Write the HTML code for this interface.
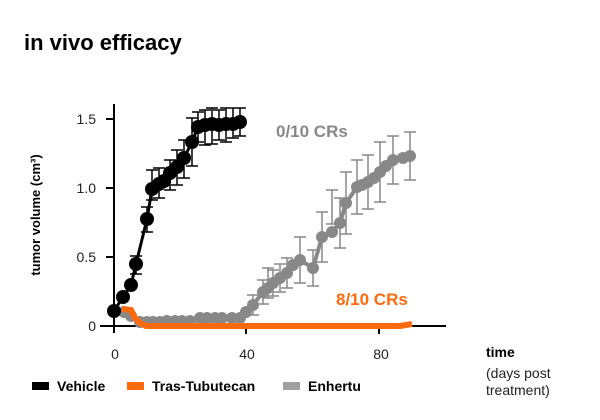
<!DOCTYPE html>
<html><head><meta charset="utf-8"><style>
body{margin:0;background:#fff}
svg{display:block;font-family:"Liberation Sans",sans-serif}
</style></head><body>
<svg width="600" height="420" viewBox="0 0 600 420" xmlns="http://www.w3.org/2000/svg">
<text x="24" y="50" font-size="22" font-weight="bold" fill="#000">in vivo efficacy</text>
<line x1="114" y1="104" x2="114" y2="333" stroke="#000" stroke-width="2"/>
<line x1="100" y1="326" x2="446" y2="326" stroke="#000" stroke-width="2"/>
<g stroke="#000" stroke-width="2">
<line x1="106" y1="119" x2="114" y2="119"/><line x1="106" y1="188" x2="114" y2="188"/>
<line x1="106" y1="257" x2="114" y2="257"/>
<line x1="246" y1="326" x2="246" y2="334"/><line x1="379" y1="326" x2="379" y2="334"/>
</g>
<g font-size="14" fill="#222" text-anchor="end">
<text x="96" y="124">1.5</text><text x="96" y="193">1.0</text><text x="96" y="262">0.5</text><text x="96" y="331">0</text>
</g>
<g font-size="14" fill="#222" text-anchor="middle">
<text x="115" y="359">0</text><text x="247" y="359">40</text><text x="381" y="359">80</text>
</g>
<text transform="translate(40,215) rotate(-90)" font-size="13" font-weight="bold" text-anchor="middle" fill="#000">tumor volume (cm³)</text>
<text x="486" y="357" font-size="14" font-weight="bold">time</text>
<text x="486" y="378" font-size="14" fill="#222">(days post</text>
<text x="486" y="395" font-size="14" fill="#222">treatment)</text>
<g stroke="#888" stroke-width="1.5" fill="none">
<path d="M253 295v20M247 295h12M247 315h12M263 280v24M257 280h12M257 304h12M273 270v26M267 270h12M267 296h12M287 258v30M281 258h12M281 288h12M300 237v46M294 237h12M294 283h12M313 250v36M307 250h12M307 286h12M322 212v50M316 212h12M316 262h12M340 198v50M334 198h12M334 248h12M346 172v62M340 172h12M340 234h12M357 160v54M351 160h12M351 214h12M368 155v54M362 155h12M362 209h12M380 142v60M374 142h12M374 202h12M393 136v48M387 136h12M387 184h12M410 132v48M404 132h12M404 180h12M332 190v34M326 190h12M326 224h12M268 268v30M262 268h12M262 298h12M280 264v28M274 264h12M274 292h12"/>
</g>
<polyline fill="none" stroke="#888" stroke-width="4" points="124,312 131,316 140,322 160,322 175,321 190,321 200,318 215,318 232,318 240,318 246,312 253,305 263,292 273,283 287,273 300,260 313,268 322,237 332,232 340,223 346,203 357,187 368,182 380,172 393,160 403,158 410,156"/>
<g fill="#888">
<circle cx="124" cy="312" r="6"/><circle cx="131" cy="316" r="6"/><circle cx="140" cy="322" r="6"/><circle cx="147" cy="322" r="6"/><circle cx="153" cy="322" r="6"/><circle cx="160" cy="322" r="6"/><circle cx="167" cy="321" r="6"/><circle cx="175" cy="321" r="6"/><circle cx="182" cy="321" r="6"/><circle cx="190" cy="321" r="6"/><circle cx="200" cy="318" r="6"/><circle cx="207" cy="318" r="6"/><circle cx="215" cy="318" r="6"/><circle cx="222" cy="318" r="6"/><circle cx="232" cy="318" r="6"/><circle cx="240" cy="318" r="6"/><circle cx="246" cy="312" r="6"/><circle cx="253" cy="305" r="6"/><circle cx="263" cy="292" r="6"/><circle cx="268" cy="288" r="6"/><circle cx="273" cy="283" r="6"/><circle cx="280" cy="278" r="6"/><circle cx="287" cy="273" r="6"/><circle cx="293" cy="265" r="6"/><circle cx="300" cy="260" r="6"/><circle cx="313" cy="268" r="6"/><circle cx="322" cy="237" r="6"/><circle cx="332" cy="232" r="6"/><circle cx="340" cy="223" r="6"/><circle cx="346" cy="203" r="6"/><circle cx="357" cy="187" r="6"/><circle cx="362" cy="185" r="6"/><circle cx="368" cy="182" r="6"/><circle cx="374" cy="178" r="6"/><circle cx="380" cy="172" r="6"/><circle cx="386" cy="166" r="6"/><circle cx="393" cy="160" r="6"/><circle cx="403" cy="158" r="6"/><circle cx="410" cy="156" r="6"/>
</g>
<polyline fill="none" stroke="#ff6a0d" stroke-width="6" points="122,309 131,310 135,318 140,323 146,326 400,326 412,324"/>
<g stroke="#000" stroke-width="1.5" fill="none">
<path d="M136 256v18M130 256h12M130 274h12M147 207v25M141 207h12M141 232h12M152 170v30M146 170h12M146 200h12M159 168v30M153 168h12M153 198h12M170 160v30M164 160h12M164 190h12M177 150v35M171 150h12M171 185h12M184 140v38M178 140h12M178 178h12M192 118v48M186 118h12M186 166h12M198 112v30M192 112h12M192 142h12M205 110v35M199 110h12M199 145h12M212 108v36M206 108h12M206 144h12M219 110v30M213 110h12M213 140h12M226 108v34M220 108h12M220 142h12M233 108v30M227 108h12M227 138h12M240 108v28M234 108h12M234 136h12"/>
</g>
<polyline fill="none" stroke="#000" stroke-width="3" points="114,311 123,297 131,285 136,264 147,219 152,189 159,184 164,181 170,173 177,167 184,158 192,142 198,127 205,125 212,124 219,125 226,124 233,124 240,122"/>
<g fill="#000">
<circle cx="114" cy="311" r="7"/><circle cx="123" cy="297" r="7"/><circle cx="131" cy="285" r="7"/><circle cx="136" cy="264" r="7"/><circle cx="147" cy="219" r="7"/><circle cx="152" cy="189" r="7"/><circle cx="159" cy="184" r="7"/><circle cx="164" cy="181" r="7"/><circle cx="170" cy="173" r="7"/><circle cx="177" cy="167" r="7"/><circle cx="184" cy="158" r="7"/><circle cx="192" cy="142" r="7"/><circle cx="198" cy="127" r="7"/><circle cx="205" cy="125" r="7"/><circle cx="212" cy="124" r="7"/><circle cx="219" cy="125" r="7"/><circle cx="226" cy="124" r="7"/><circle cx="233" cy="124" r="7"/><circle cx="240" cy="122" r="7"/>
</g>
<text x="276" y="137" font-size="17" font-weight="bold" fill="#888">0/10 CRs</text>
<text x="336" y="305" font-size="17" font-weight="bold" fill="#ff6a0d">8/10 CRs</text>
<rect x="32" y="382" width="17" height="8" fill="#000"/>
<text x="57" y="391" font-size="14" font-weight="bold">Vehicle</text>
<rect x="127" y="382" width="17" height="8" fill="#ff6a0d"/>
<text x="152" y="391" font-size="14" font-weight="bold">Tras-Tubutecan</text>
<rect x="283" y="382" width="17" height="8" fill="#a0a0a0"/>
<text x="308" y="391" font-size="14" font-weight="bold">Enhertu</text>
</svg>
</body></html>
